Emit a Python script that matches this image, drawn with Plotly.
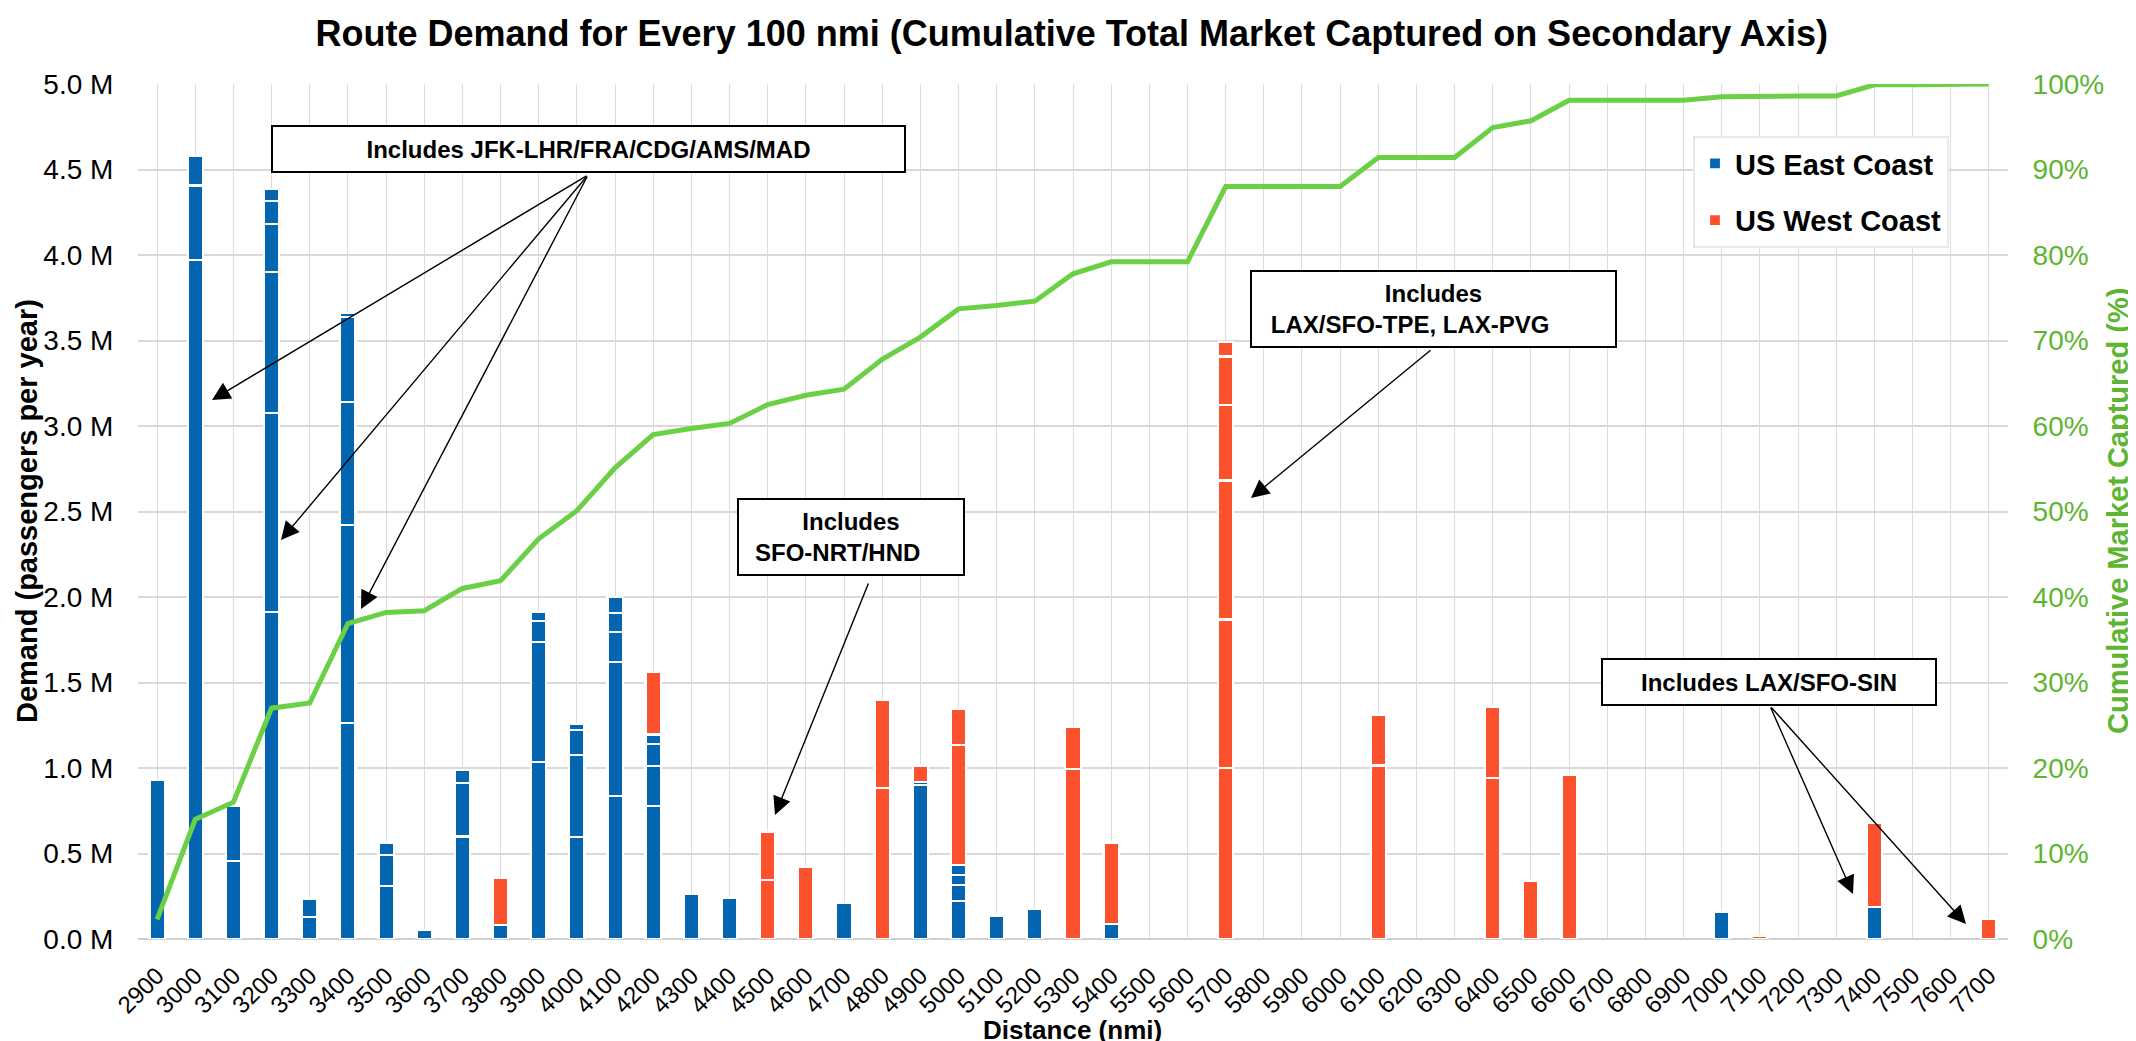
import plotly.graph_objects as go

# ---------------- data ----------------
distances = [str(d) for d in range(2900, 7800, 100)]

# stacked route segments (million passengers / year), bottom -> top
east_segments = {
    "2900": [0.928],
    "3000": [3.969, 0.438, 0.170],
    "3100": [0.454, 0.322],
    "3200": [1.910, 1.166, 0.825, 0.280, 0.133, 0.072],
    "3300": [0.129, 0.105],
    "3400": [1.263, 1.157, 0.719, 0.497, 0.025],
    "3500": [0.308, 0.185, 0.068],
    "3600": [0.055],
    "3700": [0.600, 0.312, 0.078],
    "3800": [0.080],
    "3900": [1.033, 0.702, 0.123, 0.052],
    "4000": [0.596, 0.480, 0.148, 0.035],
    "4100": [0.834, 0.786, 0.175, 0.111, 0.092],
    "4200": [0.780, 0.232, 0.130, 0.054],
    "4300": [0.262],
    "4400": [0.238],
    "4700": [0.212],
    "4900": [0.899, 0.020],
    "5000": [0.222, 0.094, 0.058, 0.060],
    "5100": [0.138],
    "5200": [0.175],
    "5400": [0.086],
    "7000": [0.158],
    "7400": [0.185],
}

west_segments = {
    "3800": [0.277],
    "4200": [0.364],
    "4500": [0.347, 0.277],
    "4600": [0.422],
    "4800": [0.884, 0.516],
    "4900": [0.096],
    "5000": [0.699, 0.213],
    "5300": [0.994, 0.248],
    "5400": [0.478],
    "5700": [1.001, 0.868, 0.812, 0.442, 0.283, 0.086],
    "6100": [1.015, 0.293],
    "6400": [0.942, 0.416],
    "6500": [0.339],
    "6600": [0.959],
    "7100": [0.016],
    "7400": [0.494],
    "7700": [0.119],
}

cumulative_pct = [2.3, 14.0, 16.0, 27.0, 27.6, 36.9, 38.2, 38.4, 41.0, 41.9,
                  46.8, 50.1, 55.1, 59.0, 59.7, 60.3, 62.5, 63.6, 64.3, 67.8,
                  70.4, 73.7, 74.1, 74.6, 77.8, 79.2, 79.2, 79.2, 88.0, 88.0,
                  88.0, 88.0, 91.4, 91.4, 91.4, 94.9, 95.7, 98.1, 98.1, 98.1,
                  98.1, 98.5, 98.6, 98.6, 98.6, 99.9, 99.9, 99.9, 100.0]

y_tick_vals = [0, 0.5, 1, 1.5, 2, 2.5, 3, 3.5, 4, 4.5, 5]
y_tick_text = ["0.0 M", "0.5 M", "1.0 M", "1.5 M", "2.0 M", "2.5 M",
               "3.0 M", "3.5 M", "4.0 M", "4.5 M", "5.0 M"]
y2_tick_vals = [0, 10, 20, 30, 40, 50, 60, 70, 80, 90, 100]
y2_tick_text = ["0%", "10%", "20%", "30%", "40%", "50%",
                "60%", "70%", "80%", "90%", "100%"]

# ---------------- styling ----------------
FONT = "Liberation Sans, Arial, sans-serif"
BLUE = "#0465B0"
ORANGE = "#FC512D"
GREEN_LINE = "#6CD046"
GREEN_TEXT = "#5DB531"
W, H = 2136, 1041
L, R, T, B = 130, 2000, 76, 931  # plot area in pixels


def px(x):
    return (x - L) / (R - L)


def py(y):
    return (B - y) / (B - T)


fig = go.Figure()


def add_stack(segments, color, name, group):
    n = max(len(v) for v in segments.values())
    for k in range(n):
        vals = [segments[d][k] if d in segments and len(segments[d]) > k else None
                for d in distances]
        fig.add_trace(go.Bar(
            x=distances, y=vals, name=f"<b>{name}</b>", legendgroup=group,
            showlegend=(k == 0), marker=dict(color=color, line=dict(color="white", width=2.2)),
            width=0.40, yaxis="y", hoverinfo="skip"))


add_stack(east_segments, BLUE, "US East Coast", "east")
add_stack(west_segments, ORANGE, "US West Coast", "west")

fig.add_trace(go.Scatter(
    x=distances, y=cumulative_pct, mode="lines", yaxis="y2",
    line=dict(color=GREEN_LINE, width=5), showlegend=False, hoverinfo="skip"))

# ---------------- annotations ----------------
ann = []
box_font = dict(family=FONT, size=24, color="black")


def box(cx, cy, w, h, text):
    ann.append(dict(x=px(cx), y=py(cy), xref="paper", yref="paper", text=text,
                    showarrow=False, xanchor="center", yanchor="middle",
                    width=w, height=h, bordercolor="black", borderwidth=2,
                    borderpad=0, bgcolor="white", font=box_font, align="center"))


def arrow(tail, tip):
    ann.append(dict(x=px(tip[0]), y=py(tip[1]), xref="paper", yref="paper",
                    ax=tail[0] - tip[0], ay=tail[1] - tip[1], axref="pixel", ayref="pixel",
                    text="", showarrow=True, arrowhead=2, arrowsize=2.6, arrowwidth=1.4,
                    arrowcolor="black", standoff=0))


box(580.5, 141, 631, 44, "<b>Includes JFK-LHR/FRA/CDG/AMS/MAD</b>")
for tip in [(204, 392), (273, 532), (353, 601)]:
    arrow((580, 167), tip)

box(843, 529, 224, 74, "<b>Includes<br>SFO-NRT/HND&nbsp;&nbsp;&nbsp;&nbsp;</b>")
arrow((861, 574), (767, 807))

box(1425.5, 301, 363, 74, "<b>Includes<br>LAX/SFO-TPE, LAX-PVG&nbsp;&nbsp;&nbsp;&nbsp;&nbsp;&nbsp;&nbsp;</b>")
arrow((1424, 341), (1243, 490))

box(1761, 674, 332, 44, "<b>Includes LAX/SFO-SIN</b>")
for tip in [(1845, 886), (1958, 916)]:
    arrow((1762, 698), tip)

# axis titles
ann.append(dict(x=px(19), y=py(503), xref="paper", yref="paper", showarrow=False,
                text="<b>Demand (passengers per year)</b>", textangle=-90,
                font=dict(family=FONT, size=29, color="black"),
                xanchor="center", yanchor="middle"))
ann.append(dict(x=px(2110), y=py(503), xref="paper", yref="paper", showarrow=False,
                text="<b>Cumulative Market Captured (%)</b>", textangle=-90,
                font=dict(family=FONT, size=29, color=GREEN_TEXT),
                xanchor="center", yanchor="middle"))
ann.append(dict(x=px(1064), y=py(1022), xref="paper", yref="paper", showarrow=False,
                text="<b>Distance (nmi)</b>",
                font=dict(family=FONT, size=26, color="black"),
                xanchor="center", yanchor="middle"))

fig.update_layout(
    width=W, height=H,
    margin=dict(l=L, r=W - R, t=T, b=H - B),
    barmode="stack",
    paper_bgcolor="white", plot_bgcolor="white",
    font=dict(family=FONT, color="black"),
    title=dict(text="<b>Route Demand for Every 100 nmi (Cumulative Total Market Captured on Secondary Axis)</b>",
               x=0.498, xanchor="center", y=1 - 25 / H, yanchor="middle", yref="container",
               font=dict(family=FONT, size=36, color="black")),
    xaxis=dict(type="category", categoryorder="array", categoryarray=distances,
               range=[-0.5, len(distances) - 0.5],
               tickangle=-45, tickfont=dict(family=FONT, size=24, color="black"),
               showgrid=True, gridcolor="#dcdcdc", gridwidth=1.3,
               showline=False, ticks="outside", ticklen=12, tickcolor="rgba(0,0,0,0)"),
    yaxis=dict(range=[0, 5], tickvals=y_tick_vals, ticktext=y_tick_text,
               tickfont=dict(family=FONT, size=28, color="black"),
               showgrid=True, gridcolor="#d9d9d9", gridwidth=2,
               zeroline=True, zerolinecolor="#cfcfcf", zerolinewidth=2,
               showline=False, ticks="outside", ticklen=18, tickcolor="rgba(0,0,0,0)"),
    yaxis2=dict(range=[0, 100], overlaying="y", side="right",
                tickvals=y2_tick_vals, ticktext=y2_tick_text,
                tickfont=dict(family=FONT, size=28, color=GREEN_TEXT),
                showgrid=False, zeroline=False, showline=False,
                ticks="outside", ticklen=18, tickcolor="rgba(0,0,0,0)"),
    legend=dict(x=px(1685), y=py(128), xanchor="left", yanchor="top",
                bgcolor="white", bordercolor="#e6e9ee", borderwidth=2,
                font=dict(family=FONT, size=29, color="black"),
                traceorder="grouped", tracegroupgap=16,
                itemwidth=30),
    annotations=ann,
    showlegend=True,
)

fig.write_html("out.html")
